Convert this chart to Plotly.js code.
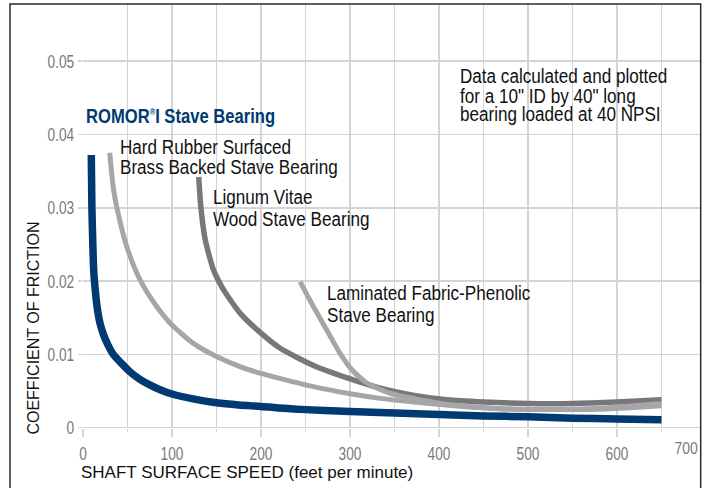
<!DOCTYPE html>
<html>
<head>
<meta charset="utf-8">
<script src="https://cdn.plot.ly/plotly-3.0.1.min.js"></script>
<style>
  html, body { margin: 0; padding: 0; background: #fff; }
  #chart { width: 705px; height: 488px; }
</style>
</head>
<body>
<div id="chart"></div>
<script>
// ---- data ----
const romorX = [9.3, 10, 11, 12, 14, 16.4, 19, 23, 28, 34, 43, 53, 64, 75.6, 88, 100, 125, 150, 175, 200, 244, 300, 350, 400, 450, 500, 550, 600, 650];
const romorY = [0.0372, 0.0300, 0.0252, 0.0215, 0.0185, 0.0160, 0.0143, 0.0127, 0.0113, 0.0100, 0.0088, 0.0076, 0.0066, 0.0058, 0.0051, 0.0046, 0.0039, 0.0034, 0.0031, 0.0029, 0.0025, 0.0022, 0.0020, 0.0018, 0.0016, 0.0015, 0.0013, 0.0012, 0.0011];

const rubberX = [30, 34.4, 42, 50.5, 64.4, 83, 100, 124, 150, 177, 200, 222, 259, 297, 334, 372, 416, 469, 520, 570, 610, 650];
const rubberY = [0.0375, 0.0324, 0.0279, 0.0242, 0.0201, 0.0165, 0.0140, 0.0115, 0.0097, 0.0083, 0.0074, 0.0067, 0.0056, 0.0047, 0.0040, 0.0035, 0.0030, 0.0026, 0.0025, 0.0025, 0.0027, 0.0030];

const lignumX = [130, 132.6, 137.4, 146.7, 158, 176.7, 200, 222, 259, 297, 334, 372, 409, 450, 500, 550, 600, 650];
const lignumY = [0.0342, 0.0299, 0.0256, 0.0215, 0.0188, 0.0156, 0.0129, 0.0108, 0.0085, 0.0068, 0.0054, 0.0044, 0.0038, 0.0035, 0.0033, 0.0033, 0.0035, 0.0038];

const laminX = [244, 259, 274, 289, 302, 319, 345, 379, 416, 469, 520, 570, 610, 650];
const laminY = [0.0199, 0.0165, 0.0133, 0.0101, 0.0079, 0.0061, 0.0047, 0.0038, 0.0031, 0.0026, 0.0025, 0.0026, 0.0029, 0.0033];

const xTicks = [0, 100, 200, 300, 400, 500, 600];
const xTickText = ['0', '100', '200', '300', '400', '500', '600'];
const yTicks = [0, 0.01, 0.02, 0.03, 0.04, 0.05];
const yTickText = ['0', '0.01', '0.02', '0.03', '0.04', '0.05'];
const lastXTick = '700';

const seriesNames = ['Hard Rubber Surfaced Brass Backed Stave Bearing', 'Lignum Vitae Wood Stave Bearing', 'Laminated Fabric-Phenolic Stave Bearing', 'ROMOR I Stave Bearing'];

// ---- styles ----
const SANS = '"Liberation Sans", Arial, sans-serif';
const NAVY = '#013a70';
const DARK = '#78787c';
const LIGHT = '#a6a6a9';
const GRID = '#d4d4d4';
const TICKCOL = '#7a7a7a';

const traces = [
  {x: rubberX, y: rubberY, name: seriesNames[0], mode: 'lines', line: {color: LIGHT, width: 5, shape: 'spline', smoothing: 0.6}},
  {x: lignumX, y: lignumY, name: seriesNames[1], mode: 'lines', line: {color: DARK, width: 5.5, shape: 'spline', smoothing: 0.6}},
  {x: laminX, y: laminY, name: seriesNames[2], mode: 'lines', line: {color: LIGHT, width: 5, shape: 'spline', smoothing: 0.6}},
  {x: romorX, y: romorY, name: seriesNames[3], mode: 'lines', line: {color: NAVY, width: 7.5, shape: 'spline', smoothing: 0.6}}
];

const noteFont = {family: SANS, size: 20, color: '#111'};
function note(text, x, y, font) {
  return {text: text, x: x, y: y, xref: 'x', yref: 'y', xanchor: 'left', yanchor: 'middle', align: 'left', showarrow: false, font: font || noteFont};
}

const annotations = [
  note('ROMOR<sup><span style="font-size:9px">®</span></sup>I Stave Bearing', 1.3, 0.04248, {family: SANS, size: 20, color: NAVY, weight: 'bold'}),
  note('Hard Rubber Surfaced', 39.3, 0.03826),
  note('Brass Backed Stave Bearing', 39.3, 0.03557),
  note('Lignum Vitae', 143.8, 0.03145),
  note('Wood Stave Bearing', 143.8, 0.0285),
  note('Laminated Fabric-Phenolic', 272.3, 0.01834),
  note('Stave Bearing', 272.3, 0.01544),
  note('Data calculated and plotted', 421.3, 0.04794),
  note('for a 10" ID by 40" long', 421.3, 0.04521),
  note('bearing loaded at 40 NPSI', 421.3, 0.04273),
  {text: 'SHAFT SURFACE SPEED (feet per minute)', xref: 'paper', yref: 'paper', x: -0.0065, y: -0.1038,
   xanchor: 'left', yanchor: 'middle', align: 'left', showarrow: false, font: {family: SANS, size: 17, color: '#111'}},
  {text: 'COEFFICIENT OF FRICTION', xref: 'paper', yref: 'paper', x: -0.0816, y: 0.2358, textangle: -90,
   xanchor: 'center', yanchor: 'middle', showarrow: false, font: {family: SANS, size: 16, color: '#111'}},
  {text: lastXTick, xref: 'paper', yref: 'paper', x: 0.975, y: -0.0472,
   xanchor: 'center', yanchor: 'middle', showarrow: false, font: {family: SANS, size: 17, color: TICKCOL}}
];
// horizontal squeeze per annotation to imitate the condensed typeface
const squeeze = [0.83, 0.855, 0.855, 0.855, 0.855, 0.855, 0.855, 0.855, 0.855, 0.855, 1, 1, 0.82];

const layout = {
  width: 705, height: 488,
  margin: {l: 83, r: 4, t: 4, b: 60, pad: 0},
  paper_bgcolor: '#fff', plot_bgcolor: '#fff',
  showlegend: false,
  xaxis: {
    range: [0, 694.4], tickvals: xTicks, ticktext: xTickText,
    showgrid: true, gridcolor: GRID, gridwidth: 1.5, zeroline: false, showline: false,
    ticks: 'outside', ticklen: 8, tickwidth: 1.5, tickcolor: GRID,
    tickfont: {family: SANS, size: 19, color: TICKCOL},
    minor: {dtick: 50, tick0: 0, showgrid: true, gridcolor: GRID, gridwidth: 1.5, ticks: 'outside', ticklen: 3, tickwidth: 1.5, tickcolor: GRID}
  },
  yaxis: {
    range: [-0.00004, 0.0578], tickvals: yTicks, ticktext: yTickText,
    showgrid: true, gridcolor: GRID, gridwidth: 1.5, zeroline: true, zerolinecolor: GRID, zerolinewidth: 1.5, showline: false,
    ticks: 'outside', ticklen: 4, tickwidth: 1.5, tickcolor: GRID,
    tickfont: {family: SANS, size: 19, color: TICKCOL}
  },
  annotations: annotations,
  shapes: [
    {type: 'rect', xref: 'paper', yref: 'paper', x0: -0.1181, x1: 0.9995, y0: -0.35, y1: 1.0,
     line: {color: '#2a2a2a', width: 1.5}, fillcolor: 'rgba(0,0,0,0)', layer: 'above'}
  ]
};

function condense(el, f) {
  if (!el || f === 1) return;
  const w = el.getComputedTextLength();
  if (w > 0) {
    el.setAttribute('textLength', (w * f).toFixed(2));
    el.setAttribute('lengthAdjust', 'spacingAndGlyphs');
  }
}

Plotly.newPlot('chart', traces, layout, {displayModeBar: false, staticPlot: true}).then(function (gd) {
  gd.querySelectorAll('.xtick text, .ytick text').forEach(function (t) { condense(t, 0.72); });
  squeeze.forEach(function (f, i) {
    const g = gd.querySelector('.annotation[data-index="' + i + '"] text.annotation-text');
    condense(g, f);
  });
});
</script>
</body>
</html>
